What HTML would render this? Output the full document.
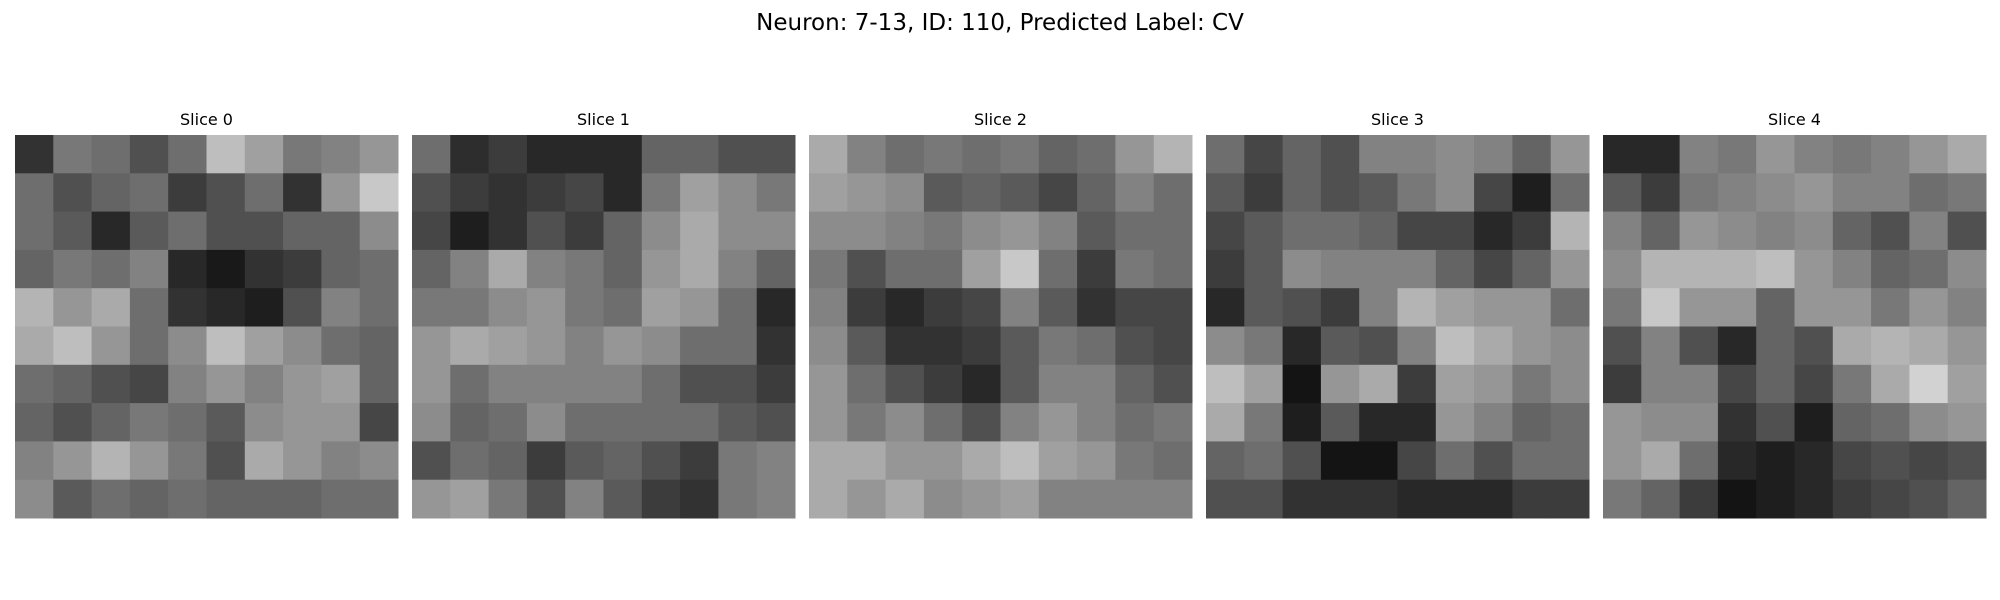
<!DOCTYPE html>
<html><head><meta charset="utf-8"><style>
html,body{margin:0;padding:0;background:#fff;}
svg{display:block;font-family:"DejaVu Sans","Liberation Sans",sans-serif;}
</style></head><body>
<svg id="fig" width="2000" height="600" viewBox="0 0 2000 600" xmlns="http://www.w3.org/2000/svg">
<rect width="2000" height="600" fill="#fff"/>
<text x="1000" y="30" font-size="23" text-anchor="middle" fill="#000">Neuron: 7-13, ID: 110, Predicted Label: CV</text>
</svg>
<script>
const sliceTitles = ["Slice 0","Slice 1","Slice 2","Slice 3","Slice 4"];
const slice0 = [
[50,120,110,80,110,190,160,120,130,150],
[110,80,100,110,60,80,110,50,150,200],
[110,90,40,90,110,80,80,100,100,140],
[100,120,110,130,40,25,50,60,100,110],
[180,150,170,110,50,40,30,80,130,110],
[170,190,150,110,140,190,160,140,110,100],
[110,100,80,70,130,150,130,150,160,100],
[100,80,100,120,110,90,140,150,150,70],
[130,150,180,150,120,80,170,150,130,140],
[140,90,110,100,110,100,100,100,110,110]];
const slice1 = [
[110,45,60,40,40,40,100,100,80,80],
[80,60,50,60,70,40,120,160,140,120],
[70,30,50,80,60,100,140,170,140,140],
[100,130,170,130,120,100,150,170,130,100],
[120,120,140,150,120,110,160,150,110,40],
[150,170,160,150,130,150,140,110,110,50],
[150,110,130,130,130,130,110,80,80,60],
[140,100,110,140,110,110,110,110,90,80],
[80,110,100,60,90,100,80,60,120,130],
[150,160,120,80,130,90,60,50,120,130]];
const slice2 = [
[170,130,110,120,110,120,100,110,150,180],
[160,150,140,90,100,90,70,100,130,110],
[140,140,130,120,140,150,130,90,110,110],
[120,80,110,110,160,200,110,60,120,110],
[130,60,40,60,70,130,90,50,70,70],
[140,90,50,50,60,90,120,110,80,70],
[150,110,80,60,40,90,130,130,100,80],
[150,120,140,110,80,130,150,130,110,120],
[170,170,150,150,170,190,160,150,120,110],
[170,150,170,140,150,160,130,130,130,130]];
const slice3 = [
[110,70,100,80,130,130,140,130,100,150],
[90,60,100,80,90,120,140,70,30,110],
[70,90,110,110,100,70,70,40,60,180],
[60,90,140,130,130,130,100,70,100,150],
[40,90,80,60,130,180,160,150,150,110],
[140,120,40,90,80,130,190,170,150,140],
[190,160,20,150,170,60,160,150,120,140],
[170,120,30,90,40,40,150,130,100,110],
[100,110,80,20,20,70,110,80,110,110],
[80,80,50,50,50,40,40,40,60,60]];
const slice4 = [
[40,40,130,120,150,130,120,130,150,170],
[90,60,120,130,140,150,130,130,110,120],
[130,100,150,140,130,140,100,80,130,80],
[140,180,180,180,190,150,130,100,110,140],
[120,200,150,150,100,150,150,120,150,130],
[80,130,80,40,100,80,170,180,170,150],
[60,130,130,70,100,70,120,170,210,160],
[150,140,140,50,80,30,100,110,140,150],
[150,170,110,40,30,40,70,80,70,80],
[120,100,60,20,30,40,60,70,80,100]];
const slices = [slice0, slice1, slice2, slice3, slice4];

const NS = "http://www.w3.org/2000/svg";
const svg = document.getElementById("fig");
const panelLeft = 15, panelStep = 397, panelTop = 135, panelSize = 383;
function panelX(i){ return panelLeft + i * panelStep; }
function gray(v){ const c = Math.max(0, Math.min(255, Math.round(v))); return "rgb(" + c + "," + c + "," + c + ")"; }

slices.forEach((grid, p) => {
  const g = document.createElementNS(NS, "g");
  
  
  svg.appendChild(g);
  const t = document.createElementNS(NS, "text");
  
  
  t.setAttribute("x", panelX(p) + panelSize / 2);
  t.setAttribute("y", 125);
  t.setAttribute("font-size", "16");
  t.setAttribute("text-anchor", "middle");
  t.textContent = sliceTitles[p];
  g.appendChild(t);
  const rows = grid.length, cols = grid[0].length;
  const cw = panelSize / cols, ch = panelSize / rows;
  grid.forEach((row, r) => row.forEach((v, c) => {
    const rect = document.createElementNS(NS, "rect");
    
    
    rect.setAttribute("x", (panelX(p) + c * cw).toFixed(2));
    rect.setAttribute("y", (panelTop + r * ch).toFixed(2));
    rect.setAttribute("width", (cw + 0.5).toFixed(2));
    rect.setAttribute("height", (ch + 0.5).toFixed(2));
    rect.setAttribute("fill", gray(v));
    g.appendChild(rect);
  }));
});
</script>
</body></html>
